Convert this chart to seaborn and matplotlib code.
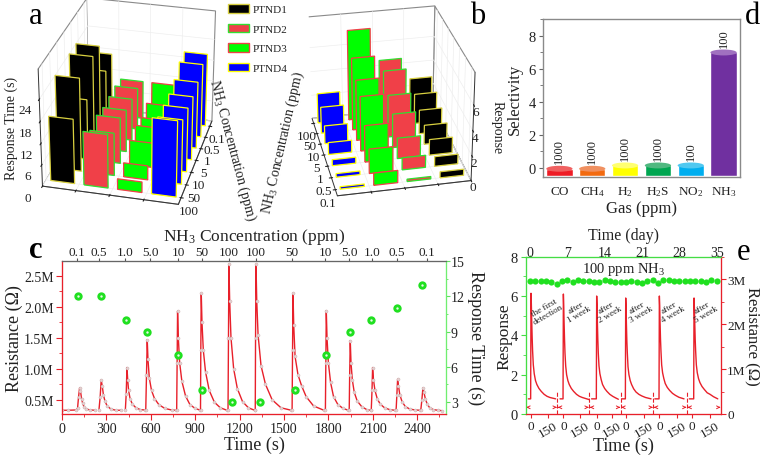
import matplotlib
matplotlib.use('Agg')
import matplotlib.pyplot as plt
from matplotlib.patches import Ellipse, Patch
from matplotlib.ticker import AutoMinorLocator, FuncFormatter
import seaborn as sns

sns.set_style(style='white')
plt.rcParams['font.family'] = ['Liberation Serif', 'DejaVu Serif']
plt.rcParams['mathtext.fontset'] = 'custom'
plt.rcParams['mathtext.rm'] = 'Liberation Serif'
plt.rcParams['mathtext.default'] = 'rm'
plt.rcParams['grid.color'] = '#eeeeee'
plt.rcParams['grid.linewidth'] = 0.5
plt.rcParams['text.color'] = '#222222'
plt.rcParams['axes.labelcolor'] = '#222222'
plt.rcParams['xtick.color'] = '#222222'
plt.rcParams['ytick.color'] = '#222222'

# panels a, b
conc_labels = ['0.1', '0.5', '1', '5', '10', '50', '100']
ptnd_names = ['PTND1', 'PTND2', 'PTND3', 'PTND4']
ptnd_face = ['#000000', '#f04048', '#00ff00', '#0000ff']
ptnd_edge = ['#d8d040', '#30e030', '#f04048', '#ffff00']
# 0.1 -> 100 ppm
time_ptnd1 = [18, 16, 26, 26, 17, 26, 18]
time_ptnd2 = [11, 12, 12, 12, 13, 12, 15]
time_ptnd3 = [11, 8, 7, 8, 7, 4, 3]
time_ptnd4 = [21, 21, 19, 18, 18, 18, 21]
resp_ptnd1 = [0.5, 0.8, 1.3, 1.6, 2.0, 2.5, 3.0]
resp_ptnd2 = [0.2, 1.0, 1.7, 2.8, 3.5, 4.7, 4.8]
resp_ptnd3 = [1.0, 2.0, 3.0, 4.5, 5.0, 6.0, 7.5]
resp_ptnd4 = [0.2, 0.3, 0.5, 1.0, 1.5, 2.2, 2.5]

# panel d
gases = ['CO', 'CH$_4$', 'H$_2$', 'H$_2$S', 'NO$_2$', 'NH$_3$']
selectivity = [-0.05, -0.05, 0.15, 0.15, 0.15, 7.0]
gas_ppm = ['1000', '1000', '1000', '1000', '100', '100']
gas_colors = ['#ee1c25', '#f26a10', '#ffff00', '#00a651', '#00aeef', '#7030a0']
gas_tops = ['#f06060', '#f09060', '#ffff70', '#50b880', '#50c8f0', '#a070c0']

# panel c
c_peaks_t = [
    [0, 40, 95, 105, 112, 119, 125, 132, 140, 150, 165, 190, 225],
    [250, 258, 265, 272, 280, 290, 305, 330, 365, 400],
    [428, 434, 439, 444, 450, 460, 475, 500, 530, 560],
    [566, 571, 576, 581, 590, 605, 625, 655, 695, 740, 770],
    [775, 778, 781, 786, 795, 810, 835, 865, 900, 930],
    [936, 938, 941, 946, 955, 970, 995, 1030, 1070, 1115],
    [1122, 1125, 1128, 1133, 1142, 1160, 1185, 1220, 1260, 1302],
    [1306, 1308, 1311, 1316, 1325, 1345, 1375, 1420, 1480, 1550],
    [1555, 1558, 1561, 1566, 1575, 1595, 1620, 1650, 1700, 1770],
    [1780, 1783, 1786, 1791, 1800, 1815, 1835, 1865, 1900, 1935],
    [1941, 1944, 1948, 1953, 1962, 1975, 1995, 2025, 2060, 2085],
    [2090, 2095, 2099, 2105, 2115, 2130, 2150, 2180, 2215, 2250],
    [2258, 2263, 2268, 2274, 2283, 2298, 2320, 2350, 2385, 2420],
    [2425, 2432, 2439, 2446, 2455, 2468, 2485, 2510, 2540, 2565],
]
c_peaks_r = [
    [.33, .33, .335, .36, .55, .69, .64, .52, .44, .38, .35, .335, .33],
    [.34, .55, .82, .72, .58, .48, .40, .35, .33, .33],
    [.33, .6, 1.02, .82, .65, .52, .43, .37, .34, .335],
    [.34, .9, 1.47, 1.15, .85, .65, .52, .42, .36, .335, .33],
    [.34, 1.1, 1.93, 1.5, 1.1, .8, .56, .42, .36, .335],
    [.34, 1.3, 2.22, 1.75, 1.3, .95, .65, .46, .37, .33],
    [.34, 1.5, 2.69, 2.1, 1.5, 1.0, .68, .47, .37, .33],
    [.34, 1.5, 2.69, 2.1, 1.55, 1.05, .75, .5, .37, .33],
    [.34, 1.3, 2.22, 1.7, 1.2, .9, .72, .55, .4, .33],
    [.34, 1.1, 1.94, 1.5, 1.1, .78, .55, .42, .36, .33],
    [.34, .9, 1.455, 1.1, .82, .62, .48, .39, .34, .33],
    [.34, .65, 1.02, .82, .65, .52, .43, .37, .34, .33],
    [.34, .58, .83, .72, .58, .47, .39, .35, .335, .33],
    [.34, .5, .69, .62, .52, .43, .37, .34, .33, .325],
]
c_dots_t = [105, 263, 430, 574, 781, 948, 1150, 1340, 1576, 1786, 1947, 2091, 2263, 2432]
c_dots_v = [12, 12, 10, 9, 7, 4, 3, 3, 4, 7, 9, 10, 11, 13]
c_top_pos = [101, 247, 427, 597, 784, 943, 1126, 1311, 1554, 1779, 1941, 2097, 2263, 2466]
c_top_lab = ['0.1', '0.5', '1.0', '5.0', '10', '50', '100', '100', '50', '10', '5.0', '1.0', '0.5', '0.1']

# panel e
e_segments_t = [
    [23, 43, 46, 49, 52, 56, 60, 66, 74, 85, 97, 115, 135, 160, 185, 210, 260],
    [298, 324, 327, 330, 333, 337, 341, 347, 355, 366, 378, 396, 416, 441, 466, 491, 552],
    [572, 613, 616, 619, 622, 626, 630, 636, 644, 655, 667, 685, 705, 730, 755, 780, 804],
    [833, 865, 868, 871, 874, 878, 882, 888, 896, 907, 919, 937, 957, 982, 1007, 1040, 1088],
    [1121, 1157, 1160, 1163, 1166, 1170, 1174, 1180, 1188, 1199, 1211, 1229, 1249, 1274, 1299, 1330, 1374],
    [1420, 1458, 1461, 1464, 1467, 1471, 1475, 1481, 1489, 1500, 1512, 1530, 1550, 1575, 1600, 1630, 1667],
]
e_segments_v = [
    [.77, .77, 6.14, 5.6, 4.8, 3.9, 3.2, 2.5, 2.05, 1.7, 1.5, 1.3, 1.15, 1.0, .9, .84, .77],
    [.77, .77, 6.1, 5.5, 4.7, 3.8, 3.1, 2.45, 2.0, 1.7, 1.5, 1.3, 1.15, 1.0, .9, .84, .73],
    [.77, .77, 6.0, 5.5, 4.7, 3.8, 3.1, 2.45, 2.05, 1.75, 1.5, 1.3, 1.15, 1.0, .9, .82, .75],
    [.77, .77, 5.9, 5.4, 4.6, 3.7, 3.1, 2.4, 2.0, 1.7, 1.5, 1.28, 1.12, 1.0, .92, .84, .77],
    [.77, .77, 6.0, 5.5, 4.7, 3.8, 3.2, 2.5, 2.1, 1.8, 1.55, 1.35, 1.2, 1.05, .95, .85, .77],
    [.77, .77, 5.9, 5.4, 4.7, 3.8, 3.2, 2.5, 2.1, 1.8, 1.6, 1.4, 1.25, 1.08, 1.0, .88, .77],
]
e_days = list(range(36))
e_dots_v = [6.77, 6.76, 6.74, 6.74, 6.72, 6.60, 6.74, 6.81, 6.71, 6.79, 6.76, 6.74,
            6.72, 6.72, 6.81, 6.74, 6.71, 6.71, 6.72, 6.76, 6.72, 6.66, 6.76, 6.81,
            6.67, 6.79, 6.79, 6.76, 6.77, 6.74, 6.76, 6.77, 6.77, 6.69, 6.79, 6.77]
e_tick_pos = [46, 196, 327, 472, 616, 746, 868, 1027, 1160, 1309, 1440, 1599]
e_tick_lab = ['0', '150'] * 6
e_breaks = [275, 552, 825, 1108, 1400]
e_notes = ['the first\ndetection', 'after\n1 week', 'after\n2 week', 'after\n3 week', 'after\n4 week', 'after\n5 week']
e_note_x = [180, 450, 715, 985, 1260, 1550]


def rect(l, t, r, b):
    return [l / 760, 1 - b / 456, (r - l) / 760, (b - t) / 456]


def fx(px):
    return px / 760


def fy(py):
    return 1 - py / 456


def bars_3d(ax, series, order, faces, edges):
    # flat bars standing on the concentration axis, like origin draws them
    for i, vals in enumerate(series):
        for j, v in enumerate(vals):
            y = order[j]
            ax.bar([i], [v], zs=y, zdir='y', width=0.72, color=faces[i],
                   edgecolor=edges[i], linewidth=0.9, alpha=1)


def clean_3d(ax):
    for a in (ax.xaxis, ax.yaxis, ax.zaxis):
        a.set_pane_color((1, 1, 1, 1))
        a.pane.set_edgecolor('#8a8a8a')
        a.pane.set_linewidth(0.8)
        a.line.set_color('#333333')
        a.line.set_linewidth(0.7)


fig = plt.figure(figsize=(7.6, 4.56), dpi=100)

# panel a
ax_a = fig.add_axes(rect(5, -24, 250, 226), projection='3d', proj_type='persp', focal_length=1.0)
bars_3d(ax_a, [time_ptnd1, time_ptnd2, time_ptnd3, time_ptnd4], [6, 5, 4, 3, 2, 1, 0], ptnd_face, ptnd_edge)
ax_a.view_init(elev=28, azim=-76)
ax_a.set_xlim(-0.5, 3.5)
ax_a.set_ylim(-0.5, 6.5)
ax_a.set_zlim(0, 32)
ax_a.set_box_aspect((0.9, 1.12, 0.85), zoom=1.0)
ax_a.set_xticks([0.5, 1.5, 2.5])
ax_a.set_xticklabels([])
ax_a.set_yticks(range(7))
ax_a.set_yticklabels(conc_labels[::-1], fontsize=9.5)
ax_a.set_zticks([0, 6, 12, 18, 24])
ax_a.zaxis.set_ticks_position('lower')
ax_a.tick_params(axis='z', labelsize=9.5, pad=-1)
ax_a.tick_params(axis='y', pad=-3)
clean_3d(ax_a)

# panel b
ax_b = fig.add_axes(rect(270, -24, 500, 226), projection='3d', proj_type='persp', focal_length=1.0)
bars_3d(ax_b, [resp_ptnd4, resp_ptnd3, resp_ptnd2, resp_ptnd1], range(7), ptnd_face[::-1], ptnd_edge[::-1])
ax_b.view_init(elev=28, azim=-102)
ax_b.set_xlim(-0.5, 3.5)
ax_b.set_ylim(-0.5, 6.5)
ax_b.set_zlim(0, 8.5)
ax_b.set_box_aspect((0.95, 1.12, 0.85), zoom=1.0)
ax_b.set_xticks([0.5, 1.5, 2.5])
ax_b.set_xticklabels([])
ax_b.set_yticks(range(7))
ax_b.set_yticklabels(conc_labels, fontsize=9.5)
ax_b.set_zticks([0, 2, 4, 6])
ax_b.zaxis.set_ticks_position('lower')
ax_b.tick_params(axis='z', labelsize=9.5, pad=-7)
ax_b.tick_params(axis='y', pad=-3)
clean_3d(ax_b)

fig.text(fx(11), fy(128), 'Response Time (s)', rotation=90, fontsize=10, ha='center', va='center')
fig.text(fx(232), fy(150), 'NH$_3$ Concentration (ppm)', rotation=-75, fontsize=10, ha='center', va='center')
fig.text(fx(283), fy(143), 'NH$_3$ Concentration (ppm)', rotation=77, fontsize=10, ha='center', va='center')
fig.text(fx(497), fy(128), 'Response', rotation=-90, fontsize=10, ha='center', va='center')

handles = [Patch(facecolor=f, edgecolor=e, linewidth=1, label=n)
           for f, e, n in zip(ptnd_face, ptnd_edge, ptnd_names)]
fig.legend(handles=handles, loc='upper left', bbox_to_anchor=(fx(218), fy(-5)), frameon=False,
           fontsize=8, handlelength=1.9, handleheight=0.8, labelspacing=0.85, handletextpad=0.35)

# panel d
floor = -0.5
ax_d = fig.add_axes(rect(543, 20, 740, 178))
sns.barplot(x=gases, y=[v - floor for v in selectivity], hue=gases, palette=gas_colors, legend=False,
            bottom=floor, width=0.8, saturation=1, ax=ax_d)
for i, v in enumerate(selectivity):
    ax_d.add_patch(Ellipse((i, v), 0.8, 0.36, facecolor=gas_tops[i], edgecolor='none', zorder=3))
    ax_d.text(i, v + 0.32, gas_ppm[i], rotation=90, ha='center', va='bottom', fontsize=9)
ax_d.set_xlim(-0.5, 5.5)
ax_d.set_ylim(-0.55, 9.03)
ax_d.set_yticks([0, 2, 4, 6, 8])
ax_d.yaxis.set_minor_locator(AutoMinorLocator(2))
ax_d.tick_params(axis='y', which='both', left=True, labelsize=10.5, length=3, pad=2, color='#666666')
ax_d.tick_params(axis='y', which='minor', length=2)
ax_d.tick_params(axis='x', bottom=False, labelsize=9.5, pad=2)
for s in ax_d.spines.values():
    s.set_color('#8a8a8a')
    s.set_linewidth(1.0)
ax_d.set_xlabel('Gas (ppm)', fontsize=12, labelpad=1)
ax_d.set_ylabel('Selectivity', fontsize=12, labelpad=4)

# panel c
ax_c = fig.add_axes(rect(62, 262, 446, 415))
for t, r in zip(c_peaks_t, c_peaks_r):
    sns.lineplot(x=t, y=r, color='#e8202a', linewidth=1.0, marker='o', markersize=2.2,
                 markerfacecolor='#e6d2d2', markeredgecolor='#c8a8a8', markeredgewidth=0.3,
                 estimator=None, sort=False, ax=ax_c)
ax_c.set_xlim(0, 2595)
ax_c.set_ylim(0.27, 2.74)
ax_c.set_xticks([0, 300, 600, 900, 1200, 1500, 1800, 2100, 2400])
ax_c.set_yticks([0.5, 1.0, 1.5, 2.0, 2.5])
ax_c.yaxis.set_major_formatter(FuncFormatter(lambda v, p: '%.1fM' % v))
ax_c.xaxis.set_minor_locator(AutoMinorLocator(2))
ax_c.yaxis.set_minor_locator(AutoMinorLocator(2))
ax_c.tick_params(axis='both', which='both', bottom=True, left=True, color='#e8202a', labelsize=10)
ax_c.tick_params(axis='both', which='major', length=4, pad=2)
ax_c.tick_params(axis='both', which='minor', length=2)
ax_c.set_xlabel('Time (s)', fontsize=13, labelpad=0)
ax_c.set_ylabel('Resistance (Ω)', fontsize=13, labelpad=1)

ax_c_r = ax_c.twinx()
sns.scatterplot(x=c_dots_t, y=c_dots_v, color='#20e020', s=36, linewidth=0, zorder=5, ax=ax_c_r)
sns.scatterplot(x=c_dots_t, y=c_dots_v, color='#e8f8e8', s=3, linewidth=0, zorder=6, ax=ax_c_r)
ax_c_r.set_ylim(1.98, 15)
ax_c_r.set_yticks([3, 6, 9, 12, 15])
ax_c_r.yaxis.set_minor_locator(AutoMinorLocator(2))
ax_c_r.tick_params(axis='y', which='both', right=True, color='#60e060', labelsize=10, pad=0.5)
ax_c_r.tick_params(axis='y', which='major', length=3)
ax_c_r.tick_params(axis='y', which='minor', length=1.5)
ax_c_r.set_ylabel('Response Time (s)', rotation=-90, fontsize=13, labelpad=14)

ax_c_t = ax_c.twiny()
ax_c_t.set_xlim(0, 2595)
ax_c_t.set_xticks(c_top_pos)
ax_c_t.set_xticklabels(c_top_lab)
ax_c_t.tick_params(axis='x', top=True, color='#555555', labelsize=9.5, length=2, pad=0.5)
ax_c_t.set_xlabel('NH$_3$ Concentration (ppm)', fontsize=12.5, labelpad=4)
for a in (ax_c, ax_c_r, ax_c_t):
    a.spines['left'].set_color('#e8202a')
    a.spines['bottom'].set_color('#e8202a')
    a.spines['right'].set_color('#70ee70')
    a.spines['top'].set_color('#666666')

# panel e
ax_e = fig.add_axes(rect(525.7, 257.7, 721, 415))
for t, v in zip(e_segments_t, e_segments_v):
    sns.lineplot(x=t, y=v, color='#e8202a', linewidth=1.0, estimator=None, sort=False, ax=ax_e)
ax_e.set_xlim(0, 1695)
ax_e.set_ylim(0, 8)
ax_e.vlines(e_breaks, 0, 1.16, color='#e8202a', linewidth=0.8, linestyles='--')
for b in [0] + e_breaks:
    ax_e.annotate('', xy=(b + 5, 0.34), xytext=(b + 42, 0.34),
                  arrowprops=dict(arrowstyle='->', color='#e8202a', lw=0.7, mutation_scale=5))
for b in e_breaks + [1695]:
    ax_e.annotate('', xy=(b - 5, 0.34), xytext=(b - 42, 0.34),
                  arrowprops=dict(arrowstyle='->', color='#e8202a', lw=0.7, mutation_scale=5))
for x, note in zip(e_note_x, e_notes):
    ax_e.text(x, 5.25, note, rotation=30, fontsize=6.5, ha='center', va='center', linespacing=1.0)
ax_e.text(850, 7.42, '100 ppm NH$_3$', fontsize=10.5, ha='center', va='center')
ax_e.set_xticks(e_tick_pos)
ax_e.set_xticklabels(e_tick_lab)
for i, lab in enumerate(ax_e.get_xticklabels()):
    if i % 2:
        lab.set_rotation(30)
ax_e.set_yticks([0, 2, 4, 6, 8])
ax_e.yaxis.set_minor_locator(AutoMinorLocator(2))
ax_e.tick_params(axis='x', bottom=True, color='#e8202a', labelsize=9.5, length=3, pad=1)
ax_e.tick_params(axis='y', which='both', left=True, color='#44dd44', labelsize=10.5, pad=2)
ax_e.tick_params(axis='y', which='minor', length=2)
ax_e.set_xlabel('Time (s)', fontsize=13, labelpad=-2)
ax_e.set_ylabel('Response', fontsize=12.5, labelpad=-1)

ax_e_r = ax_e.twinx()
ax_e_r.set_ylim(0, 3.5)
ax_e_r.set_yticks([0, 1, 2, 3])
ax_e_r.set_yticklabels(['0', '1M', '2M', '3M'])
ax_e_r.yaxis.set_minor_locator(AutoMinorLocator(2))
ax_e_r.tick_params(axis='y', which='both', right=True, color='#e8202a', labelsize=9.5, pad=1)
ax_e_r.tick_params(axis='y', which='minor', length=2)
ax_e_r.set_ylabel('Resistance (Ω)', rotation=-90, fontsize=12, labelpad=10)

ax_e_t = ax_e.twiny()
sns.scatterplot(x=e_days, y=e_dots_v, color='#20e020', s=20, linewidth=0, zorder=5, ax=ax_e_t)
ax_e_t.set_xlim(-0.806, 35.8)
ax_e_t.set_xticks([0, 7, 14, 21, 28, 35])
ax_e_t.tick_params(axis='x', top=True, color='#44dd44', labelsize=10, length=1.5, pad=-3)
ax_e_t.set_xlabel('Time (day)', fontsize=11.5, labelpad=5)
for a in (ax_e, ax_e_r, ax_e_t):
    a.spines['left'].set_color('#44dd44')
    a.spines['top'].set_color('#44dd44')
    a.spines['bottom'].set_color('#e8202a')
    a.spines['right'].set_color('#e8202a')

for letter, x, y in [('a', 36, 16), ('b', 478, 16), ('c', 36, 251), ('d', 752, 16), ('e', 743, 252)]:
    fig.text(fx(x), fy(y), letter, fontsize=22, ha='center', va='center', color='black',
             fontweight='bold' if letter == 'c' else 'normal')

fig.savefig('out.png', dpi=100)
plt.close(fig)
